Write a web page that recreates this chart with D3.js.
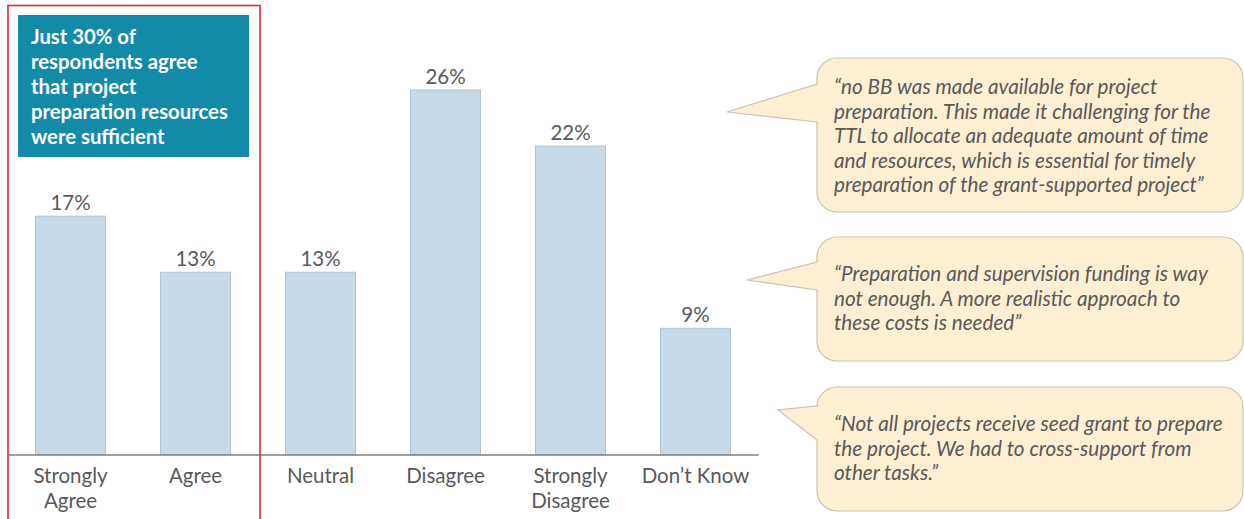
<!DOCTYPE html>
<html>
<head>
<meta charset="utf-8">
<script src="https://cdn.jsdelivr.net/npm/d3@7"></script>
<style>
  html, body { margin: 0; padding: 0; background: #fff; }
  svg { display: block; font-family: Lato, "Open Sans", sans-serif; }
</style>
</head>
<body>
<svg id="chart" width="1244" height="519"></svg>
<script>
// Survey responses on sufficiency of project preparation resources
const categories = ["Strongly Agree", "Agree", "Neutral", "Disagree", "Strongly Disagree", "Don’t Know"];
const shares = [17, 13, 13, 26, 22, 9];
const categoryLines = [["Strongly", "Agree"], ["Agree"], ["Neutral"], ["Disagree"], ["Strongly", "Disagree"], ["Don’t Know"]];

const highlightLines = ["Just 30% of", "respondents agree", "that project", "preparation resources", "were sufficient"];

const quote1 = ["“no BB was made available for project", "preparation. This made it challenging for the", "TTL to allocate an adequate amount of time", "and resources, which is essential for timely", "preparation of the grant-supported project”"];
const quote2 = ["“Preparation and supervision funding is way", "not enough. A more realistic approach to", "these costs is needed”"];
const quote3 = ["“Not all projects receive seed grant to prepare", "the project. We had to cross-support from", "other tasks.”"];

const svg = d3.select("#chart");
const textColor = "#595959";
const fontFamily = "Lato, 'Open Sans', sans-serif";

const x = d3.scaleBand()
  .domain(categories)
  .range([8, 758])
  .paddingInner(0.44)
  .paddingOuter(0.22);

const y = d3.scaleLinear()
  .domain([0, 26])
  .range([454.5, 90]);

// Bars
svg.append("g")
  .selectAll("rect")
  .data(categories)
  .join("rect")
  .attr("x", d => x(d))
  .attr("y", (d, i) => y(shares[i]))
  .attr("width", x.bandwidth())
  .attr("height", (d, i) => y(0) - y(shares[i]))
  .attr("fill", "#c8d9e7")
  .attr("stroke", "#b3c4d2")
  .attr("stroke-width", 1);

// Value labels
svg.append("g")
  .selectAll("text")
  .data(categories)
  .join("text")
  .attr("x", d => x(d) + x.bandwidth() / 2)
  .attr("y", (d, i) => y(shares[i]) - 6.5)
  .attr("text-anchor", "middle")
  .attr("font-size", 20.5)
  .attr("fill", textColor)
  .text((d, i) => shares[i] + "%");

// Category axis
const axis = svg.append("g")
  .attr("transform", `translate(0,${y(0)})`)
  .call(d3.axisBottom(x).tickSize(0).tickFormat(""))
  .attr("font-family", fontFamily);
axis.select(".domain").attr("stroke", "#7f7f7f").attr("stroke-width", 1.6);

axis.selectAll(".tick").each(function(d, i) {
  const t = d3.select(this).append("text")
    .attr("fill", textColor)
    .attr("font-size", 20.5)
    .attr("text-anchor", "middle")
    .attr("y", 28.5);
  categoryLines[i].forEach((line, k) => {
    t.append("tspan").attr("x", 0).attr("dy", k === 0 ? 0 : 24.5).text(line);
  });
});

// Highlight frame around the agreeing responses
svg.append("rect")
  .attr("x", 8).attr("y", 5.5)
  .attr("width", 252).attr("height", 530)
  .attr("fill", "none")
  .attr("stroke", "#e3262b")
  .attr("stroke-width", 1.6);

// Summary box
svg.append("rect")
  .attr("x", 18).attr("y", 15)
  .attr("width", 231).attr("height", 142)
  .attr("fill", "#148aa9");

svg.append("text")
  .attr("fill", "#ffffff")
  .attr("font-size", 20.3)
  .attr("font-weight", "bold")
  .selectAll("tspan")
  .data(highlightLines)
  .join("tspan")
  .attr("x", 31)
  .attr("y", (d, i) => 44 + i * 25)
  .text(d => d);

// Speech bubbles with quotes
function bubblePath(x0, y0, x1, y1, r, tipX, tipY, baseTop, baseBottom) {
  const p = d3.path();
  p.moveTo(x0 + r, y0);
  p.lineTo(x1 - r, y0);
  p.arcTo(x1, y0, x1, y0 + r, r);
  p.lineTo(x1, y1 - r);
  p.arcTo(x1, y1, x1 - r, y1, r);
  p.lineTo(x0 + r, y1);
  p.arcTo(x0, y1, x0, y1 - r, r);
  p.lineTo(x0, baseBottom);
  p.lineTo(tipX, tipY);
  p.lineTo(x0, baseTop);
  p.lineTo(x0, y0 + r);
  p.arcTo(x0, y0, x0 + r, y0, r);
  p.closePath();
  return p.toString();
}

const bubbles = [
  { lines: quote1, box: [817, 58, 1243, 212], tip: [727, 112], base: [84, 122], textY: 94 },
  { lines: quote2, box: [817, 237, 1243, 361], tip: [747, 280], base: [262, 290], textY: 281 },
  { lines: quote3, box: [817, 387, 1243, 511], tip: [778, 410], base: [406, 440], textY: 431 }
];

bubbles.forEach(b => {
  const [x0, y0, x1, y1] = b.box;
  svg.append("path")
    .attr("d", bubblePath(x0, y0, x1, y1, 20, b.tip[0], b.tip[1], b.base[0], b.base[1]))
    .attr("fill", "#fdefd2")
    .attr("stroke", "#c9c3b6")
    .attr("stroke-width", 1.2);
  svg.append("text")
    .attr("fill", textColor)
    .attr("font-size", 20.7)
    .attr("font-style", "italic")
    .selectAll("tspan")
    .data(b.lines)
    .join("tspan")
    .attr("x", 834)
    .attr("y", (d, i) => b.textY + i * 24.5)
    .text(d => d);
});
</script>
</body>
</html>
